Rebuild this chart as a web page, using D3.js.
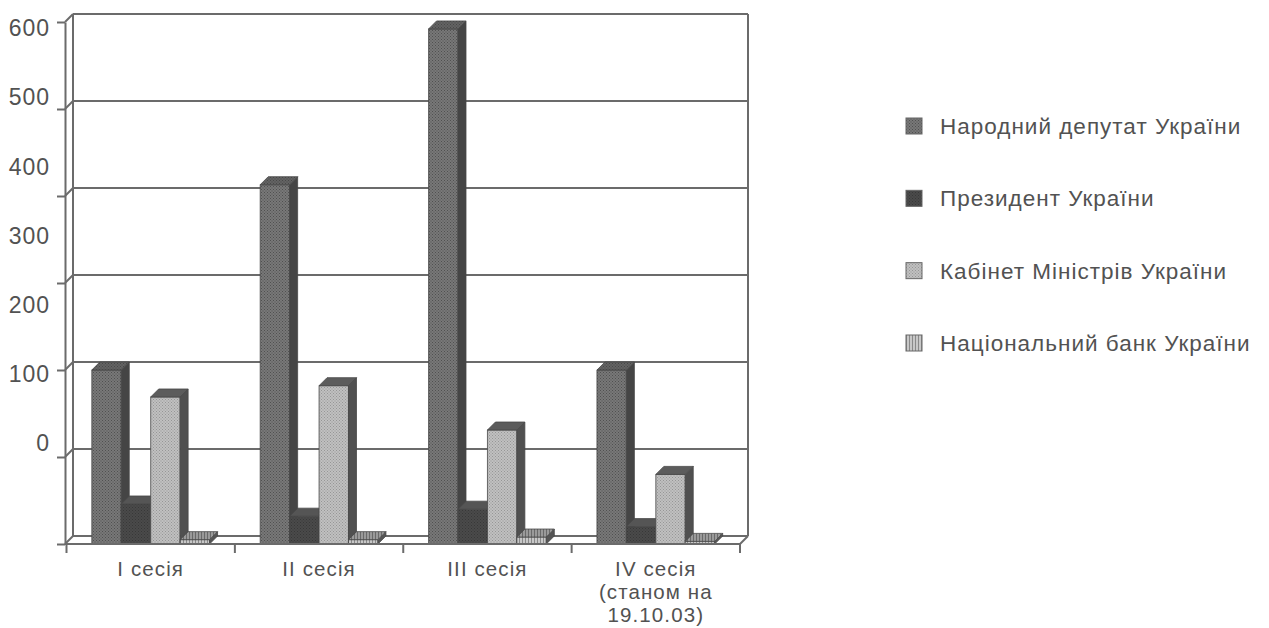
<!DOCTYPE html>
<html>
<head>
<meta charset="utf-8">
<script src="https://cdn.jsdelivr.net/npm/d3@7/dist/d3.min.js"></script>
<style>
  html, body { margin: 0; padding: 0; background: #ffffff; }
  svg { display: block; font-family: "Liberation Sans", Arial, sans-serif; }
</style>
</head>
<body>
<script>
// Sessions (categories) and their printed labels
const categories = ["I", "II", "III", "IV"];
const categoryLabels = [
  ["I сесія"],
  ["II сесія"],
  ["III сесія"],
  ["IV сесія", "(станом на", "19.10.03)"]
];

// Series names (legend order)
const seriesNames = [
  "Народний депутат України",
  "Президент України",
  "Кабінет Міністрів України",
  "Національний банк України"
];

// Values per session
const deputies     = [200, 413, 592, 200];
const president    = [46, 32, 40, 20];
const cabinet      = [169, 182, 131, 80];
const nationalBank = [5, 5, 8, 3];

// Value axis ticks and the printed tick labels
const yTicks = [0, 100, 200, 300, 400, 500, 600];
const yTickLabels = ["0", "100", "200", "300", "400", "500", "600"];

const seriesValues = [deputies, president, cabinet, nationalBank];

const W = 1269, H = 628;
const DX = 8, DY = 8;            // depth offset of the 3D box
const LINE = "#6b6b6b";
const TEXT = "#525252";

const svg = d3.select("body").append("svg")
  .attr("width", W).attr("height", H);

const defs = svg.append("defs");

// halftone-like fills
function dotPattern(id, base, dot, size) {
  const p = defs.append("pattern").attr("id", id)
    .attr("patternUnits", "userSpaceOnUse")
    .attr("width", size).attr("height", size);
  p.append("rect").attr("width", size).attr("height", size).attr("fill", base);
  p.append("rect").attr("x", 0).attr("y", 0).attr("width", 1).attr("height", 1).attr("fill", dot);
  p.append("rect").attr("x", size / 2).attr("y", size / 2).attr("width", 1).attr("height", 1).attr("fill", dot);
}
function stripePattern(id, base, stripe) {
  const p = defs.append("pattern").attr("id", id)
    .attr("patternUnits", "userSpaceOnUse")
    .attr("width", 3).attr("height", 3);
  p.append("rect").attr("width", 3).attr("height", 3).attr("fill", base);
  p.append("rect").attr("x", 0).attr("y", 0).attr("width", 1).attr("height", 3).attr("fill", stripe);
}
dotPattern("pDepFront", "#787878", "#505050", 3);
dotPattern("pDepTop", "#636363", "#484848", 3);
dotPattern("pPresFront", "#4a4a4a", "#383838", 3);
dotPattern("pCabFront", "#c0c0c0", "#969696", 3);
stripePattern("pNbFront", "#c8c8c8", "#8a8a8a");
stripePattern("pNbTop", "#9a9a9a", "#6a6a6a");

const styles = [
  { front: "url(#pDepFront)", top: "url(#pDepTop)", side: "#454545", swatch: "url(#pDepFront)" },
  { front: "url(#pPresFront)", top: "#555555", side: "#3a3a3a", swatch: "url(#pPresFront)" },
  { front: "url(#pCabFront)", top: "#5c5c5c", side: "#505050", swatch: "url(#pCabFront)" },
  { front: "url(#pNbFront)", top: "url(#pNbTop)", side: "#555555", swatch: "url(#pNbFront)" }
];

// Scales
const x0 = d3.scaleBand().domain(categories).range([66.5, 740]).padding(0);
const x1 = d3.scaleBand().domain(seriesNames).range([0, x0.bandwidth()])
  .paddingInner(0).paddingOuter(0.86);
const y = d3.scaleLinear().domain([0, 600]).range([544, 22]);
// positions of the printed tick labels along the axis
const yLabel = d3.scaleLinear().domain([0, 600]).range([443, 28]);

const xLeft = 65, xRight = x0.range()[1];

// ---- walls and gridlines ----
const walls = svg.append("g").attr("stroke", LINE).attr("stroke-width", 2).attr("fill", "none");

yTicks.forEach(t => {
  const yy = y(t);
  // line on the back wall
  walls.append("line")
    .attr("x1", xLeft + DX).attr("x2", xRight + DX)
    .attr("y1", yy - DY).attr("y2", yy - DY);
  // diagonal on the side wall
  walls.append("line")
    .attr("x1", xLeft).attr("y1", yy)
    .attr("x2", xLeft + DX).attr("y2", yy - DY);
});
// back-left and back-right wall edges
walls.append("line")
  .attr("x1", xLeft + DX).attr("x2", xLeft + DX)
  .attr("y1", y(600) - DY).attr("y2", y(0) - DY);
walls.append("line")
  .attr("x1", xRight + DX).attr("x2", xRight + DX)
  .attr("y1", y(600) - DY).attr("y2", y(0) - DY);

// ---- bars ----
const barsG = svg.append("g").attr("stroke", "#474747").attr("stroke-width", 0.8)
  .attr("stroke-linejoin", "round");

categories.forEach((cat, i) => {
  seriesNames.forEach((s, j) => {
    const v = seriesValues[j][i];
    const xf = x0(cat) + x1(s);
    const w = x1.bandwidth();
    const yt = y(v), yb = y(0);
    const st = styles[j];
    const g = barsG.append("g");
    g.append("rect")
      .attr("x", xf).attr("y", yt)
      .attr("width", w).attr("height", yb - yt)
      .attr("fill", st.front);
    g.append("polygon")
      .attr("points", [[xf + w, yt], [xf + w + DX, yt - DY], [xf + w + DX, yb - DY], [xf + w, yb]].join(" "))
      .attr("fill", st.side);
    g.append("polygon")
      .attr("points", [[xf, yt], [xf + DX, yt - DY], [xf + w + DX, yt - DY], [xf + w, yt]].join(" "))
      .attr("fill", st.top);
  });
});

// ---- floor front edge and axes ----
const front = svg.append("g").attr("stroke", LINE).attr("stroke-width", 2).attr("fill", "none");
front.append("line")
  .attr("x1", xLeft).attr("x2", xRight)
  .attr("y1", y(0)).attr("y2", y(0));
front.append("line")
  .attr("x1", xRight).attr("y1", y(0))
  .attr("x2", xRight + DX).attr("y2", y(0) - DY);

// value axis (ticks only; labels are printed separately)
const yAxis = d3.axisLeft(y).tickValues(yTicks).tickSize(8).tickSizeOuter(0).tickFormat("");
const yAxisG = svg.append("g").attr("transform", `translate(${xLeft},0)`).call(yAxis);
yAxisG.selectAll("path, line").attr("stroke", LINE).attr("stroke-width", 2);

// category axis ticks at band boundaries
const boundaries = categories.map(c => x0(c)).concat([xRight]);
front.selectAll("line.xtick").data(boundaries).enter().append("line")
  .attr("class", "xtick")
  .attr("x1", d => d).attr("x2", d => d)
  .attr("y1", y(0)).attr("y2", y(0) + 9);

// value labels
svg.append("g").selectAll("text").data(yTicks).enter().append("text")
  .attr("x", 50)
  .attr("y", d => yLabel(d))
  .attr("dy", "0.36em")
  .attr("text-anchor", "end")
  .attr("font-size", 23)
  .attr("letter-spacing", 1)
  .attr("fill", TEXT)
  .text((d, i) => yTickLabels[i]);

// category labels (one text element per line)
const catG = svg.append("g");
categories.forEach((c, i) => {
  const cx = x0(c) + x0.bandwidth() / 2;
  categoryLabels[i].forEach((line, k) => {
    catG.append("text")
      .attr("x", cx).attr("y", 576 + k * 23)
      .attr("text-anchor", "middle")
      .attr("font-size", 20.5)
      .attr("letter-spacing", 1.1)
      .attr("fill", TEXT)
      .text(line);
  });
});

// ---- legend ----
const legend = svg.append("g");
const legendY = d3.scalePoint().domain(seriesNames).range([126, 343]);
seriesNames.forEach((s, j) => {
  const cy = legendY(s);
  legend.append("rect")
    .attr("x", 906).attr("y", cy - 8)
    .attr("width", 16).attr("height", 16)
    .attr("fill", styles[j].swatch)
    .attr("stroke", "#666").attr("stroke-width", 1);
  legend.append("text")
    .attr("x", 940).attr("y", cy)
    .attr("dy", "0.36em")
    .attr("font-size", 22.5)
    .attr("letter-spacing", 1)
    .attr("fill", TEXT)
    .text(s);
});
</script>
</body>
</html>
